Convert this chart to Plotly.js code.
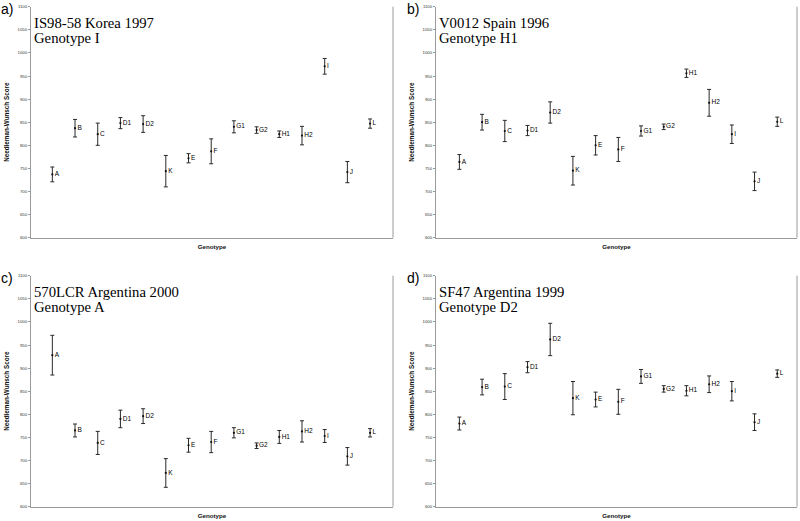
<!DOCTYPE html>
<html>
<head>
<meta charset="utf-8">
<script src="https://cdn.plot.ly/plotly-3.0.1.min.js"></script>
<style>html,body{margin:0;padding:0;background:#fff;}#chart{width:800px;height:521px;}</style>
</head>
<body>
<div id="chart"></div>
<script>
// Genotype categories (x axis order)
const genotypes = ['A','B','C','D1','D2','K','E','F','G1','G2','H1','H2','I','J','L'];
const yTicks = [600,650,700,750,800,850,900,950,1000,1050,1100];

// Panel a) IS98-58 Korea 1997, Genotype I
const scoreA = [737, 837, 824, 848, 846, 744, 772, 787, 840, 833, 824, 821, 971, 742, 847];
const errA   = [16, 19, 24, 12, 18, 34, 10, 27, 13, 7, 7, 20, 17, 23, 10];
// Panel b) V0012 Spain 1996, Genotype H1
const scoreB = [764, 850, 831, 832, 871, 745, 800, 791, 831, 840, 956, 892, 824, 722, 851];
const errB   = [16, 17, 23, 11, 23, 31, 21, 26, 11, 6, 9, 29, 20, 20, 10];
// Panel c) 570LCR Argentina 2000, Genotype A
const scoreC = [928, 765, 738, 790, 796, 673, 733, 740, 760, 732, 751, 763, 753, 709, 760];
const errC   = [43, 14, 25, 19, 16, 31, 15, 23, 11, 6, 14, 23, 14, 19, 9];
// Panel d) SF47 Argentina 1999, Genotype D2
const scoreD = [780, 859, 860, 902, 962, 835, 832, 827, 882, 855, 851, 865, 850, 783, 888];
const errD   = [14, 17, 28, 12, 35, 36, 16, 27, 15, 7, 11, 18, 21, 18, 8];

const panelLetters = ['a)','b)','c)','d)'];
const panelLine1 = ['IS98-58 Korea 1997','V0012 Spain 1996','570LCR Argentina 2000','SF47 Argentina 1999'];
const panelLine2 = ['Genotype I','Genotype H1','Genotype A','Genotype D2'];

const scores = [scoreA, scoreB, scoreC, scoreD];
const errs = [errA, errB, errC, errD];

const W = 800, H = 521;
// pixel boxes of each plot area [left, right, top, bottom]
const boxes = [[31,393,6.7,237.7],[436,797,6.7,237.7],[31,393,275.7,506.7],[436,797,275.7,506.7]];
const xRanges = [[-0.94,15.01],[-1.03,14.87],[-0.94,15.01],[-1.03,14.87]];

const traces = [];
const layout = {
  width: W, height: H,
  margin: {l:0, r:0, t:0, b:0},
  paper_bgcolor: '#fff', plot_bgcolor: '#fff',
  showlegend: false,
  annotations: [], shapes: []
};

for (let i = 0; i < 4; i++) {
  const s = i === 0 ? '' : String(i+1);
  traces.push({
    type: 'scatter', mode: 'markers+text',
    x: genotypes, y: scores[i], text: genotypes,
    textposition: 'middle right',
    textfont: {family: 'Arial, Liberation Sans, sans-serif', size: 6.5, color: '#000'},
    marker: {size: 2.2, color: '#111'},
    error_y: {type: 'data', array: errs[i], visible: true, thickness: 1, width: 2, color: '#2a2a2a'},
    xaxis: 'x' + s, yaxis: 'y' + s,
    cliponaxis: false, hoverinfo: 'skip'
  });
  const b = boxes[i];
  layout['xaxis' + s] = {
    domain: [b[0]/W, b[1]/W],
    anchor: 'y' + s,
    type: 'category',
    range: xRanges[i],
    showline: true, linecolor: '#9a9a9a', linewidth: 1,
    showticklabels: false, ticks: '', showgrid: false, zeroline: false,
    title: {text: 'Genotype', standoff: 6,
            font: {family: 'Arial, Liberation Sans, sans-serif', size: 6.2, weight: 'bold', color: '#111'}},
    automargin: false
  };
  layout['yaxis' + s] = {
    domain: [1 - b[3]/H, 1 - b[2]/H],
    anchor: 'x' + s,
    range: [600, 1100],
    tickvals: yTicks, ticktext: yTicks.map(String),
    ticks: 'outside', ticklen: 2, tickcolor: '#9a9a9a', tickwidth: 1,
    tickfont: {family: 'Arial, Liberation Sans, sans-serif', size: 4.3, color: '#333'},
    showline: true, linecolor: '#9a9a9a', linewidth: 1,
    showgrid: false, zeroline: false,
    title: {text: 'Needleman-Wunsch Score', standoff: 7,
            font: {family: 'Arial, Liberation Sans, sans-serif', size: 6.3, weight: 'bold', color: '#111'}},
    automargin: false
  };
  // right frame line
  layout.shapes.push({type: 'line', xref: 'x' + s + ' domain', yref: 'y' + s + ' domain',
    x0: 1, x1: 1, y0: 0, y1: 1, line: {color: '#9a9a9a', width: 1}});
  const hpx = b[3] - b[2];
  // panel letter
  layout.annotations.push({
    xref: 'paper', yref: 'paper', x: (i % 2 === 0 ? 0 : 406)/W, y: 1 - (b[2] - 6.7)/H,
    xanchor: 'left', yanchor: 'top', showarrow: false, borderpad: 0,
    text: panelLetters[i],
    font: {family: 'Arial, Liberation Sans, sans-serif', size: 14, color: '#000'}
  });
  // titles (two lines)
  layout.annotations.push({
    xref: 'x' + s + ' domain', yref: 'y' + s + ' domain', x: 0.003, y: 1 - 15.8/hpx,
    xanchor: 'left', yanchor: 'middle', showarrow: false,
    text: panelLine1[i],
    font: {family: 'Liberation Serif, Times New Roman, serif', size: 14.7, color: '#000'}
  });
  layout.annotations.push({
    xref: 'x' + s + ' domain', yref: 'y' + s + ' domain', x: 0.003, y: 1 - 31.3/hpx,
    xanchor: 'left', yanchor: 'middle', showarrow: false,
    text: panelLine2[i],
    font: {family: 'Liberation Serif, Times New Roman, serif', size: 14.7, color: '#000'}
  });
}

Plotly.newPlot('chart', traces, layout, {staticPlot: true, displayModeBar: false});
</script>
</body>
</html>
